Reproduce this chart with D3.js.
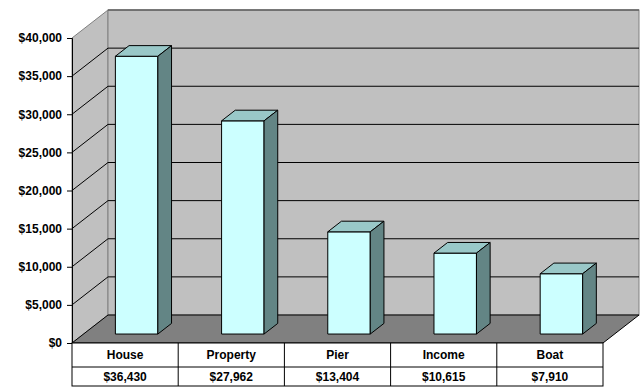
<!DOCTYPE html>
<html>
<head>
<meta charset="utf-8">
<script src="https://cdn.jsdelivr.net/npm/d3@7"></script>
<style>
  body { margin: 0; background: #fff; }
  svg text { font-family: Arial, "Liberation Sans", sans-serif; font-weight: bold; font-size: 12px; fill: #000; }
</style>
</head>
<body>
<svg id="chart" width="642" height="388"></svg>
<script>
// Asset values by category
const categories = ["House", "Property", "Pier", "Income", "Boat"];
const values = [36430, 27962, 13404, 10615, 7910];
const tickValues = [0, 5000, 10000, 15000, 20000, 25000, 30000, 35000, 40000];

const svg = d3.select("#chart");

// Front plane of the 3D box
const plotLeft = 72, plotRight = 603, plotBottom = 343, plotTop = 38;
// Depth offset of the back wall
const depthX = 36, depthY = -28;
// Bar depth span (fraction of full depth)
const d1 = 0.32, d2 = 0.70;

const x = d3.scaleBand().domain(categories).range([plotLeft, plotRight]).paddingInner(0).paddingOuter(0);
const y = d3.scaleLinear().domain([0, 40000]).range([plotBottom, plotTop]);

const fmt = v => "$" + d3.format(",")(v);
const pt = (px, py, d) => [px + depthX * d, py + depthY * d];
const poly = pts => pts.map(p => p.join(",")).join(" ");

// Left wall
svg.append("polygon")
  .attr("points", poly([[plotLeft, plotBottom], [plotLeft, plotTop], pt(plotLeft, plotTop, 1), pt(plotLeft, plotBottom, 1)]))
  .attr("fill", "#c0c0c0").attr("stroke", "#808080");

// Back wall
const bl = pt(plotLeft, y(40000), 1), br = pt(plotRight, plotBottom, 1);
svg.append("rect")
  .attr("x", bl[0]).attr("y", bl[1])
  .attr("width", br[0] - bl[0]).attr("height", br[1] - bl[1])
  .attr("fill", "#c0c0c0").attr("stroke", "#808080");

// Floor
svg.append("polygon")
  .attr("points", poly([[plotLeft, plotBottom], pt(plotLeft, plotBottom, 1), pt(plotRight, plotBottom, 1), [plotRight, plotBottom]]))
  .attr("fill", "#808080").attr("stroke", "#000").attr("stroke-width", 1);

// Gridlines on left wall and back wall
tickValues.filter(v => v > 0 && v < 40000).forEach(v => {
  const a = [plotLeft, y(v)], b = pt(plotLeft, y(v), 1), c = pt(plotRight, y(v), 1);
  svg.append("line").attr("x1", a[0]).attr("y1", a[1]).attr("x2", b[0]).attr("y2", b[1]).attr("stroke", "#000");
  svg.append("line").attr("x1", b[0]).attr("y1", b[1]).attr("x2", c[0]).attr("y2", c[1]).attr("stroke", "#000");
});
{
  const b = pt(plotLeft, y(40000), 1), c = pt(plotRight, y(40000), 1);
  svg.append("line").attr("x1", b[0]).attr("y1", b[1]).attr("x2", c[0]).attr("y2", c[1]).attr("stroke", "#606060").attr("stroke-width", 1.5);
}

// Bars
const barW = x.bandwidth() * 0.4;
categories.forEach((cat, i) => {
  const v = values[i];
  const cx = x(cat) + x.bandwidth() / 2;
  const x0 = cx - barW / 2, x1 = cx + barW / 2;
  const yb = y(0), yt = y(v);
  const fBL = pt(x0, yb, d1), fBR = pt(x1, yb, d1), fTL = pt(x0, yt, d1), fTR = pt(x1, yt, d1);
  const bBR = pt(x1, yb, d2), bTL = pt(x0, yt, d2), bTR = pt(x1, yt, d2);
  const g = svg.append("g").attr("stroke", "#000").attr("stroke-width", 1).attr("stroke-linejoin", "round");
  g.append("polygon").attr("points", poly([fBL, fTL, fTR, fBR])).attr("fill", "#ccffff");
  g.append("polygon").attr("points", poly([fTL, bTL, bTR, fTR])).attr("fill", "#99c8c8");
  g.append("polygon").attr("points", poly([fBR, fTR, bTR, bBR])).attr("fill", "#638585");
});

// Value axis
const axis = d3.axisLeft(y).tickValues(tickValues).tickFormat(fmt).tickSize(5).tickPadding(5);
const ax = svg.append("g").attr("transform", `translate(${plotLeft},0)`).call(axis);
ax.select(".domain").attr("stroke", "#000");
ax.selectAll(".tick line").attr("stroke", "#000");
ax.selectAll("text").attr("font-family", "Arial, 'Liberation Sans', sans-serif").attr("font-weight", "bold").attr("font-size", 12);

// Data table below the floor
const row1 = plotBottom, row2 = 367, row3 = 386;
const tbl = svg.append("g");
tbl.append("rect").attr("x", plotLeft).attr("y", row1).attr("width", plotRight - plotLeft).attr("height", row3 - row1)
  .attr("fill", "#fff").attr("stroke", "#000");
tbl.append("line").attr("x1", plotLeft).attr("x2", plotRight).attr("y1", row2).attr("y2", row2).attr("stroke", "#000");
categories.slice(1).forEach(cat => {
  tbl.append("line").attr("x1", x(cat)).attr("x2", x(cat)).attr("y1", row1).attr("y2", row3).attr("stroke", "#000");
});
categories.forEach((cat, i) => {
  const cx = x(cat) + x.bandwidth() / 2;
  tbl.append("text").attr("x", cx).attr("y", (row1 + row2) / 2 + 4).attr("text-anchor", "middle").text(cat);
  tbl.append("text").attr("x", cx).attr("y", (row2 + row3) / 2 + 4).attr("text-anchor", "middle").text(fmt(values[i]));
});
</script>
</body>
</html>
